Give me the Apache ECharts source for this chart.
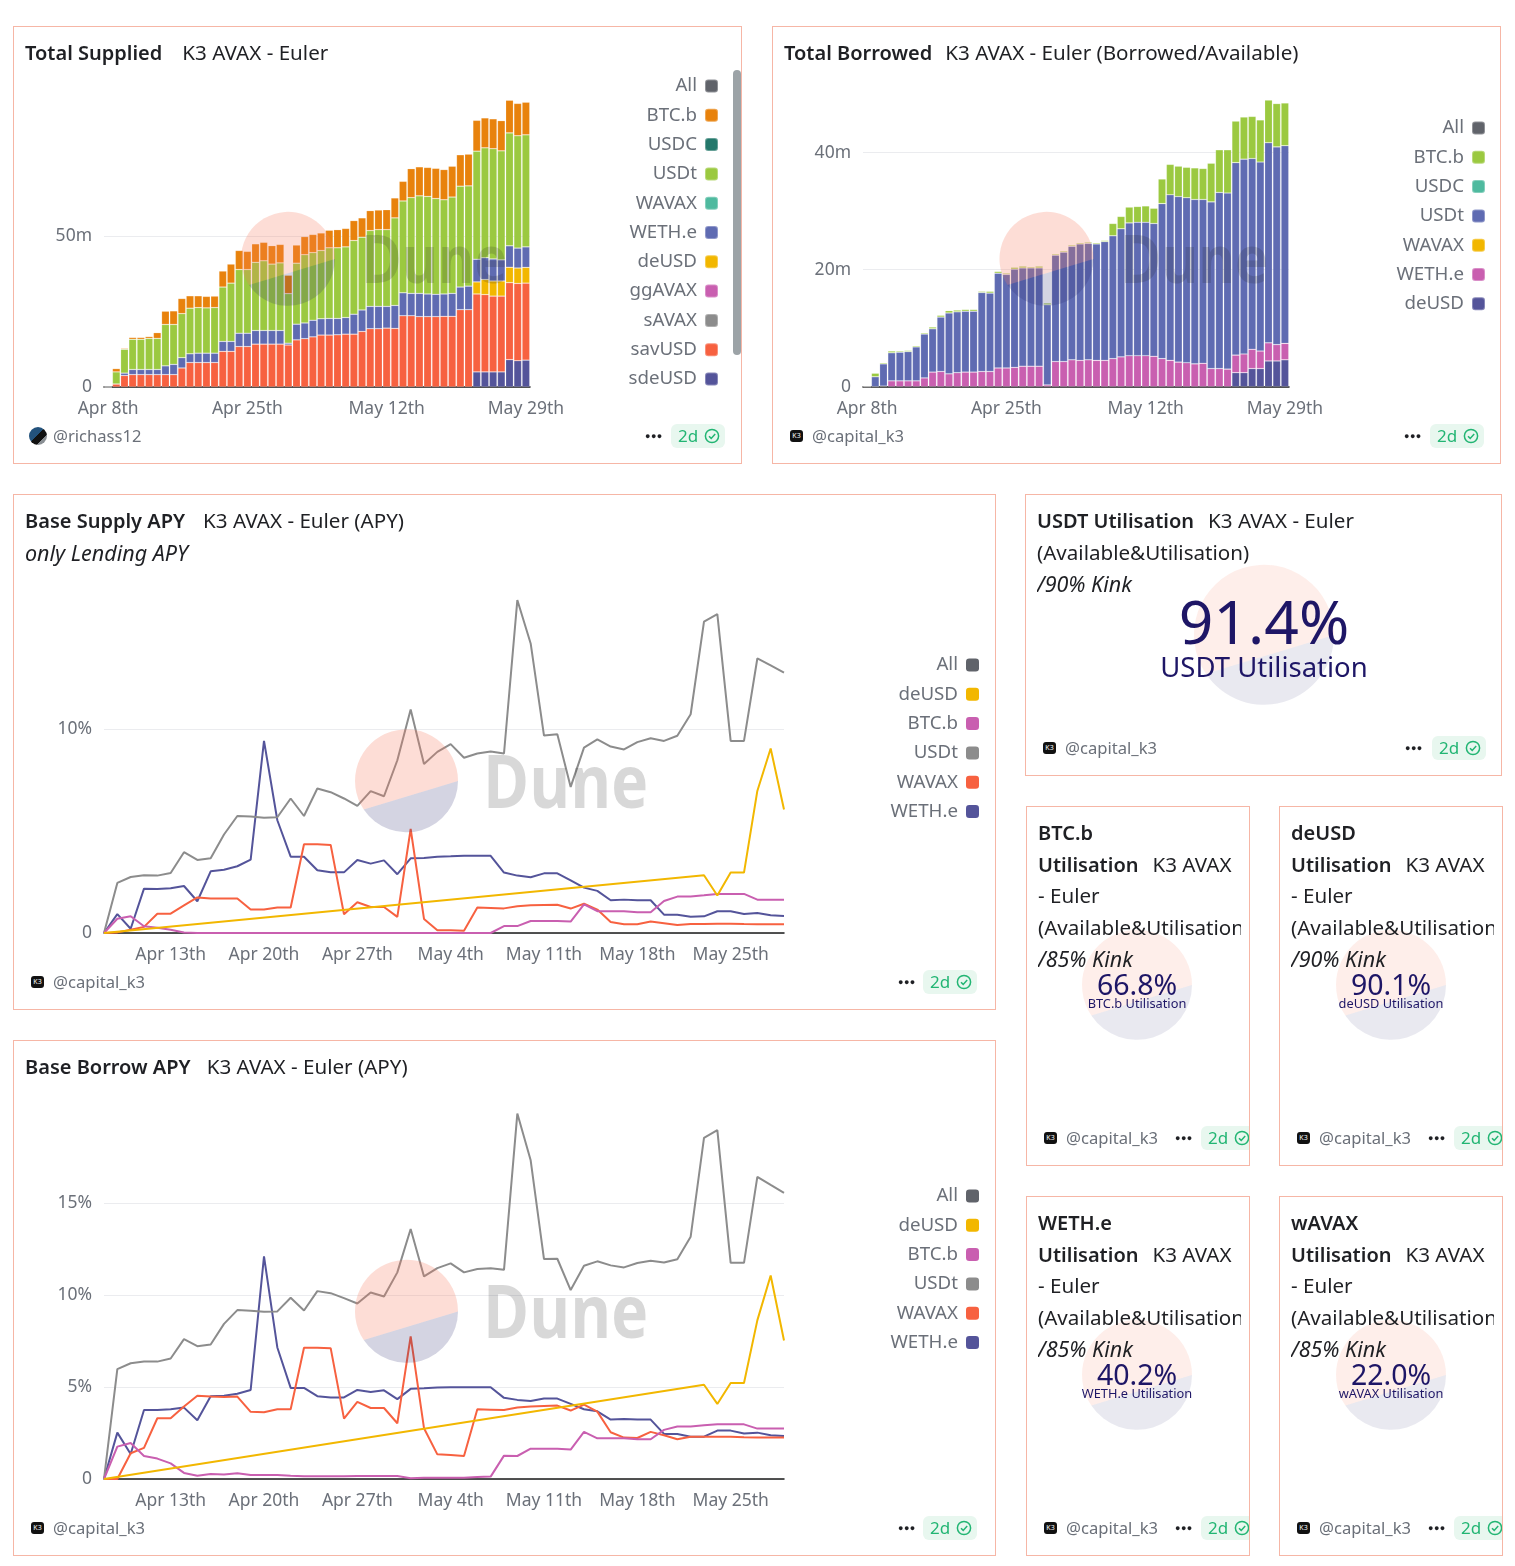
<!DOCTYPE html>
<html>
<head>
<meta charset="utf-8">
<title>K3 AVAX - Euler</title>
<script src="https://cdn.jsdelivr.net/npm/echarts@6/dist/echarts.min.js"></script>
<style>
html,body{margin:0;padding:0;background:#fff;}
body{position:relative;width:1515px;height:1566px;overflow:hidden;font-family:"Noto Sans",sans-serif;}
.card{position:absolute;box-sizing:border-box;border:1px solid #f6b6a6;overflow:hidden;background:#fff;}
.head{position:absolute;left:11px;right:8px;top:10px;overflow:hidden;font-size:20.6px;line-height:31.5px;color:#1f2024;white-space:nowrap;z-index:3;}
.head b{font-weight:600;font-size:20px;}
.head i{font-size:21.5px;}
.foot{position:absolute;height:24px;line-height:24px;font-size:16.6px;color:#6b7079;white-space:nowrap;z-index:3;}
.dots{position:absolute;font-size:9px;letter-spacing:0.5px;color:#1f2024;z-index:3;height:24px;line-height:24px;}
.badge{position:absolute;width:54px;height:24px;line-height:24px;border-radius:6px;background:#e8f7ef;color:#22b573;font-size:17px;padding-left:7px;box-sizing:border-box;z-index:3;}
.badge svg{position:absolute;left:33px;top:4px;}
.k3{position:absolute;width:13px;height:12px;border-radius:3px;background:#111;color:#fff;font-size:7px;line-height:12px;text-align:center;z-index:3;}
.pic{position:absolute;width:18px;height:18px;border-radius:9px;background:linear-gradient(135deg,#23527c 0 45%,#111 45% 70%,#8a8f94 70%);z-index:3;}
.chart{position:absolute;z-index:2;}
.logo{position:absolute;left:0;top:0;pointer-events:none;}
.scroll{position:absolute;left:733px;top:70px;width:8px;height:285px;border-radius:4px;background:#9ca3a7;z-index:4;}
</style>
</head>
<body>
<div class="scroll"></div>
<script>
var dates=['Apr 8th','Apr 9th','Apr 10th','Apr 11th','Apr 12th','Apr 13th','Apr 14th','Apr 15th','Apr 16th','Apr 17th',
'Apr 18th','Apr 19th','Apr 20th','Apr 21st','Apr 22nd','Apr 23rd','Apr 24th','Apr 25th','Apr 26th','Apr 27th',
'Apr 28th','Apr 29th','Apr 30th','May 1st','May 2nd','May 3rd','May 4th','May 5th','May 6th','May 7th',
'May 8th','May 9th','May 10th','May 11th','May 12th','May 13th','May 14th','May 15th','May 16th','May 17th',
'May 18th','May 19th','May 20th','May 21st','May 22nd','May 23rd','May 24th','May 25th','May 26th','May 27th',
'May 28th','May 29th'];

// Total Supplied, in millions
var supSde=[null,null,null,null,null,null,null,null,null,null,
null,null,null,null,null,null,null,null,null,null,
null,null,null,null,null,null,null,null,null,null,
null,null,null,null,null,null,null,null,null,null,
null,null,null,null,null,5.0,5.0,5.0,5.0,9.05,
8.7,8.9];
var supSav=[0,1.0,3.8,4.1,4.1,4.1,4.1,4.1,4.1,6.3,
8.1,8.1,8.1,8.1,11.8,11.8,13.4,13.4,14.2,14.2,
14.2,14.2,13.9,15.6,16.0,16.6,17.2,17.2,17.3,17.5,
17.5,18.4,19.3,19.3,19.5,19.4,23.6,23.6,23.3,23.3,
23.3,23.4,23.4,25.6,25.6,25.8,25.6,25.1,25.1,25.5,
25.6,25.5];
var supDe=[null,null,null,null,null,null,null,null,null,null,
null,null,null,null,null,null,null,null,null,null,
null,null,null,null,null,null,null,null,null,null,
null,null,null,null,null,null,null,null,null,null,
null,null,null,null,null,4.0,5.0,5.0,5.0,5.1,
5.1,5.2];
var supWeth=[0,0,0.8,1.7,1.7,1.7,1.7,2.9,3.4,3.4,
2.9,3.1,3.1,3.1,3.3,3.3,4.4,4.4,4.5,4.5,
4.5,4.5,0.6,5.2,5.2,5.5,5.4,5.5,5.4,5.5,
6.6,7.1,7.4,7.4,7.2,7.6,7.6,7.4,7.7,7.5,
7.4,7.4,7.6,7.5,7.8,7.5,7.2,7.3,7.0,7.1,
6.6,6.8];
var supUsdt=[0,4.0,7.9,10.0,10.0,10.3,10.3,13.7,13.2,14.6,
15.1,15.1,15.0,15.1,18.0,19.3,21.1,21.1,22.6,23.1,
22.0,22.4,16.4,20.2,22.6,22.4,22.6,23.4,23.4,23.4,
24.4,24.1,25.1,25.4,25.4,29.0,30.4,31.7,32.3,32.3,
31.7,31.2,31.9,33.4,33.2,35.8,36.4,36.5,36.1,37.4,
37.2,37.1];
var supBtc=[0,1.1,0.3,0.6,0.6,0.6,1.9,4.4,4.5,5.0,
4.1,3.9,3.8,3.8,5.3,6.3,6.3,6.0,6.1,6.1,
6.1,6.1,6.1,6.0,6.0,6.0,5.8,5.8,6.0,6.1,
6.6,6.4,6.6,6.5,6.6,6.6,6.5,9.6,9.6,9.6,
10.0,10.0,10.2,10.4,10.5,10.2,9.9,9.9,10.0,10.8,
10.7,10.8];

// Total Borrowed, in millions
var borDe=[null,null,null,null,null,null,null,null,null,null,
null,null,null,null,null,null,null,null,null,null,
null,null,null,null,null,null,null,null,null,null,
null,null,null,null,null,null,null,null,null,null,
null,null,null,null,null,2.4,2.4,3.1,3.1,4.4,
4.4,4.6];
var borWeth=[0,0,0.1,1.0,1.0,1.0,1.0,1.5,2.5,2.6,
2.2,2.4,2.5,2.5,2.6,2.6,3.2,3.2,3.3,3.5,
3.5,3.5,0.3,4.3,4.3,4.6,4.5,4.6,4.5,4.5,
4.8,5.1,5.3,5.3,5.3,5.2,4.8,4.5,4.2,4.1,
3.9,4.0,3.1,3.1,3.0,3.0,3.2,3.3,3.0,3.1,
2.8,2.8];
var borUsdt=[0,1.7,3.8,4.8,4.9,5.0,5.8,7.5,7.4,9.3,
10.4,10.4,10.4,10.4,13.5,13.4,16.2,16.0,16.8,16.8,
16.8,16.8,13.7,18.2,18.7,19.4,19.9,19.9,19.9,20.3,
21.0,21.9,22.7,22.8,22.8,22.7,26.5,28.3,28.3,28.2,
28.1,28.0,28.5,30.1,30.1,32.9,33.3,32.6,32.3,34.2,
33.8,33.8];
var borBtc=[0,0.6,0.2,0.3,0.2,0.2,0.2,0.2,0.3,0.3,
0.4,0.3,0.3,0.3,0.2,0.3,0.3,0.2,0.3,0.3,
0.2,0.3,0.3,0.2,0.2,0.2,0.2,0.2,0.2,0.2,
2.1,2.1,2.7,2.7,2.8,2.6,4.2,5.2,5.2,5.2,
5.4,5.3,6.6,7.3,7.4,7.1,7.2,7.2,7.2,7.3,
7.4,7.3];

// Base Supply APY, percent
var apyUsdt=[0,2.46,2.75,2.84,2.82,2.95,3.97,3.59,3.67,4.84,
5.75,5.72,5.66,5.69,6.61,5.75,7.10,6.92,6.61,6.25,
6.97,6.72,8.49,10.98,8.30,8.90,9.28,8.61,8.82,8.92,
8.82,16.36,14.23,9.70,9.77,7.18,9.11,9.51,9.16,9.02,
9.38,9.57,9.44,9.69,10.75,15.30,15.67,9.44,9.44,13.49,
13.15,12.80];
var apyWeth=[0,0.93,0.21,2.18,2.16,2.20,2.31,1.56,3.03,3.11,
3.28,3.61,9.44,5.54,3.75,3.75,3.08,2.98,2.98,3.59,
3.41,3.57,2.89,3.67,3.69,3.75,3.77,3.80,3.80,3.79,
2.97,2.82,2.74,2.93,2.93,2.59,2.23,2.07,1.61,1.64,
1.61,1.61,0.90,0.90,0.80,0.82,1.07,1.07,0.93,0.98,
0.87,0.84];
var apyWavax=[0,0.03,0.16,0.30,0.95,0.95,1.36,1.75,1.70,1.70,
1.70,1.15,1.15,1.25,1.25,4.36,4.36,4.33,0.92,1.51,
1.28,1.28,0.79,5.11,0.69,0.13,0.13,0.11,1.25,1.23,
1.21,1.31,1.36,1.38,1.39,1.20,1.44,1.15,0.54,0.43,
0.43,0.56,0.48,0.39,0.44,0.44,0.46,0.46,0.44,0.43,
0.43,0.43];
var apyBtc=[0,0.70,0.82,0.33,0.26,0.16,0.02,0,0,0,
0,0,0,0,0,0,0,0,0,0,
0,0,0,0,0,0,0,0,0,0,
0.34,0.34,0.59,0.59,0.59,0.56,1.41,1.07,1.07,1.07,
1.02,1.02,1.57,1.79,1.79,1.85,1.92,1.92,1.92,1.64,
1.64,1.64];
var apyDe=[0,null,null,null,null,null,null,null,null,null,
null,null,null,null,null,null,null,null,null,null,
null,null,null,null,null,null,null,null,null,null,
null,null,null,null,null,null,null,null,null,null,
null,null,null,null,null,2.84,1.84,2.97,2.97,6.98,
9.07,6.07];

// Base Borrow APY, percent
var aprUsdt=[0,5.97,6.29,6.38,6.38,6.55,7.60,7.22,7.31,8.43,
9.18,9.14,9.09,9.11,9.85,9.16,10.21,10.10,9.83,9.54,
10.14,9.92,11.23,13.59,11.01,11.46,11.72,11.23,11.41,11.45,
11.37,19.86,17.32,11.95,11.97,10.27,11.59,11.83,11.61,11.50,
11.74,11.86,11.77,11.94,13.17,18.54,18.96,11.75,11.75,16.42,
15.98,15.55];
var aprWeth=[0,2.52,1.36,3.75,3.75,3.79,3.88,3.19,4.50,4.53,
4.63,4.84,12.10,7.15,4.95,4.95,4.50,4.43,4.43,4.84,
4.73,4.82,4.34,4.90,4.93,4.97,4.99,4.99,4.99,4.99,
4.41,4.30,4.24,4.37,4.37,4.08,3.79,3.68,3.23,3.26,
3.23,3.23,2.45,2.45,2.30,2.30,2.63,2.63,2.47,2.52,
2.38,2.34];
var aprWavax=[0,0,1.40,1.69,3.30,3.30,3.94,4.52,4.48,4.46,
4.48,3.65,3.63,3.79,3.79,7.13,7.13,7.11,3.28,4.19,
3.86,3.86,3.03,7.75,2.76,1.34,1.31,1.25,3.79,3.77,
3.75,3.88,3.94,3.97,3.99,3.72,4.04,3.66,2.54,2.25,
2.23,2.56,2.38,2.16,2.30,2.29,2.30,2.30,2.27,2.25,
2.25,2.25];
var aprBtc=[0,1.76,1.96,1.25,1.11,0.85,0.33,0.18,0.27,0.24,
0.31,0.22,0.22,0.22,0.18,0.15,0.15,0.15,0.15,0.16,
0.16,0.16,0.16,0.04,0.07,0.07,0.07,0.07,0.11,0.13,
1.27,1.25,1.65,1.65,1.65,1.60,2.56,2.21,2.21,2.21,
2.16,2.16,2.67,2.85,2.85,2.92,2.97,2.97,2.97,2.74,
2.74,2.74];
var aprDe=[0,null,null,null,null,null,null,null,null,null,
null,null,null,null,null,null,null,null,null,null,
null,null,null,null,null,null,null,null,null,null,
null,null,null,null,null,null,null,null,null,null,
null,null,null,null,null,5.12,4.08,5.22,5.22,8.62,
11.06,7.53];

var utilNames=['USDT Utilisation','BTC.b Utilisation','deUSD Utilisation','WETH.e Utilisation','wAVAX Utilisation'];
var utilValues=['91.4%','66.8%','90.1%','40.2%','22.0%'];

var grey='#60636a',orange='#e8820c',green='#9bc940',teal='#4fba9f',dteal='#24786b',blue='#5f6bb2',yellow='#f2b700',pink='#c95fb0',mid='#8c8c8c',red='#f76140',navy='#54549a';
var textCol='#6b7079';

function addDiv(cls,x,y,w,h,html){
	var d=document.createElement('div');
	d.className=cls;
	d.style.left=x+'px';d.style.top=y+'px';
	if(w!=null){d.style.width=w+'px';}
	if(h!=null){d.style.height=h+'px';}
	if(html){d.innerHTML=html;}
	document.body.appendChild(d);
	return d;
}

var checkIcon='<svg width="16" height="16" viewBox="0 0 16 16"><circle cx="8" cy="8" r="6.600" fill="none" stroke="#22b573" stroke-width="1.500"/><path d="M5 8.200l2.200 2.200L11.200 6" fill="none" stroke="#22b573" stroke-width="1.500"/></svg>';

function addCard(x,y,w,h,title,handle,dotsX,badgeX){
	var c=addDiv('card',x,y,w,h,'<div class="head">'+title+'</div>'+
		'<div class="dots" style="left:'+(dotsX-x-1)+'px;top:'+(h-41)+'px">&#9679;&#9679;&#9679;</div>'+
		'<div class="badge" style="left:'+(badgeX-x-1)+'px;top:'+(h-41)+'px">2d'+checkIcon+'</div>'+
		'<div class="foot" style="left:'+39+'px;top:'+(h-41)+'px">@'+handle+'</div>'+
		(handle=='richass12'?'<div class="pic" style="left:15px;top:'+(h-38)+'px"></div>'
			:'<div class="k3" style="left:17px;top:'+(h-35)+'px">K3</div>'));
	return c;
}

function addLogo(x,y,cx,cy,r,w,h,top,bottom,word){
	var dx=r*0.83,dy=r*0.555;
	var s='<svg class="logo" width="'+w+'" height="'+h+'">'+
		'<path d="M'+(cx+r)+' '+cy+'A'+r+' '+r+' 0 1 0 '+(cx-dx)+' '+(cy+dy)+'Z" fill="'+top+'"/>'+
		'<path d="M'+(cx+r)+' '+cy+'A'+r+' '+r+' 0 0 1 '+(cx-dx)+' '+(cy+dy)+'Z" fill="'+bottom+'"/>';
	if(word){
		s+='<text x="'+word[0]+'" y="'+word[1]+'" font-family="Open Sans" font-weight="700" font-size="'+word[2]+'" textLength="'+word[3]+'" lengthAdjust="spacingAndGlyphs" fill="rgba(40,40,40,0.18)">Dune</text>';
	}
	s+='</svg>';
	var d=addDiv('chart',x,y,w,h,s);
	d.style.zIndex=5;
	d.style.pointerEvents='none';
	return d;
}

function makeChart(x,y,w,h,g,legendNames,legendColors,legendRight,legendTop,seriesList,yMax,yStep,yFmt,labelInterval,boundary){
	var el=addDiv('chart',x,y,w,h);
	var chart=echarts.init(el);
	var data=[];
	for(var i=0;i<legendNames.length;i++){
		data.push({name:legendNames[i],itemStyle:{color:legendColors[i]}});
	}
	var option={
		animation:false,
		tooltip:{trigger:'axis'},
		legend:{
			orient:'vertical',align:'right',right:legendRight,top:legendTop,padding:0,
			icon:'roundRect',itemWidth:13,itemHeight:13,itemGap:9.3,selectedMode:false,
			textStyle:{fontFamily:'Noto Sans',fontSize:18.7,color:textCol,lineHeight:20,padding:[0,3,0,0]},
			data:data
		},
		grid:{left:g[0],top:g[1],width:g[2],height:g[3]},
		xAxis:{
			type:'category',data:dates,boundaryGap:boundary,
			axisTick:{show:false},
			axisLine:{lineStyle:{color:'#1a1a1a',width:1.5}},
			axisLabel:{interval:labelInterval,fontFamily:'Noto Sans',fontSize:17.5,color:textCol,margin:13}
		},
		yAxis:{
			type:'value',min:0,max:yMax,interval:yStep,
			axisLine:{show:false},axisTick:{show:false},
			splitLine:{showMaxLine:false,lineStyle:{color:'#ebecef',width:1}},
			axisLabel:{showMaxLabel:false,formatter:yFmt,fontFamily:'Noto Sans',fontSize:17.5,color:textCol,margin:12,padding:[0,0,5,0]}
		},
		series:seriesList
	};
	chart.setOption(option);
	return chart;
}

function bar(name,color,values){
	return {name:name,type:'bar',stack:'total',data:values,barCategoryGap:'6%',
		itemStyle:{color:color,borderColor:'rgba(255,255,255,0.3)',borderWidth:0.6}};
}
function line(name,color,values){
	return {name:name,type:'line',data:values,showSymbol:false,connectNulls:true,
		lineStyle:{color:color,width:2},itemStyle:{color:color}};
}
function fmtM(v){return v==0?'0':v+'m';}
function fmtP(v){return v==0?'0':v+'%';}
function lineLabel(i){return i%7==5;}

// cards across the page
addCard(13,26,729,438,'<b>Total Supplied</b><span style="margin-left:20px">K3 AVAX - Euler</span>','richass12',645,671);
addCard(772,26,729,438,'<b>Total Borrowed</b><span style="margin-left:13px">K3 AVAX - Euler (Borrowed/Available)</span>','capital_k3',1404,1430);
addCard(13,494,983,516,'<b>Base Supply APY</b><span style="margin-left:18px">K3 AVAX - Euler (APY)</span><br><i>only Lending APY</i>','capital_k3',898,923);
addCard(13,1040,983,516,'<b>Base Borrow APY</b><span style="margin-left:16px">K3 AVAX - Euler (APY)</span>','capital_k3',898,923);
addCard(1025,494,477,282,'<b>USDT Utilisation</b><span style="margin-left:14px">K3 AVAX - Euler</span><br>(Available&amp;Utilisation)<br><i>/90% Kink</i>','capital_k3',1405,1432);
var narrow=[
	[1026,806,'BTC.b','85%'],
	[1279,806,'deUSD','90%'],
	[1026,1196,'WETH.e','85%'],
	[1279,1196,'wAVAX','85%']
];
narrow.forEach(function(n){
	addCard(n[0],n[1],224,360,'<b>'+n[2]+'<br>Utilisation</b><span style="margin-left:14px">K3 AVAX</span><br>- Euler<br>(Available&amp;Utilisation)<br><i>/'+n[3]+' Kink</i>','capital_k3',n[0]+149,n[0]+175);
});

// Total Supplied
makeChart(13,26,729,438,[91,59,426,302],
	['All','BTC.b','USDC','USDt','WAVAX','WETH.e','deUSD','ggAVAX','sAVAX','savUSD','sdeUSD'],
	[grey,orange,dteal,green,teal,blue,yellow,pink,mid,red,navy],23,50,
	[bar('sdeUSD',navy,supSde),bar('savUSD',red,supSav),bar('sAVAX',mid,[]),bar('ggAVAX',pink,[]),bar('deUSD',yellow,supDe),bar('WETH.e',blue,supWeth),bar('WAVAX',teal,[]),bar('USDt',green,supUsdt),bar('USDC',dteal,[]),bar('BTC.b',orange,supBtc),bar('All',grey,[])],
	100,50,fmtM,16,true);
addLogo(13,26,275,233,47,729,438,'rgba(246,120,90,0.25)','rgba(40,40,110,0.2)',[348,257,66,146]);

// Total Borrowed
makeChart(772,26,729,438,[91,9.7,426,351],
	['All','BTC.b','USDC','USDt','WAVAX','WETH.e','deUSD'],
	[grey,green,teal,blue,yellow,pink,navy],15,92,
	[bar('deUSD',navy,borDe),bar('WETH.e',pink,borWeth),bar('WAVAX',yellow,[]),bar('USDt',blue,borUsdt),bar('USDC',teal,[]),bar('BTC.b',green,borBtc),bar('All',grey,[])],
	60,20,fmtM,16,true);
addLogo(772,26,274.5,233,47,729,438,'rgba(246,120,90,0.25)','rgba(40,40,110,0.2)',[348,257,66,148]);

// Base Supply APY
makeChart(13,494,983,516,[91,32,680,407],
	['All','deUSD','BTC.b','USDt','WAVAX','WETH.e'],
	[grey,yellow,pink,mid,red,navy],17,161,
	[line('All',grey,[]),line('WETH.e',navy,apyWeth),line('WAVAX',red,apyWavax),line('USDt',mid,apyUsdt),line('BTC.b',pink,apyBtc),line('deUSD',yellow,apyDe)],
	20,10,fmtP,lineLabel,false);
addLogo(13,494,393.5,287,51.5,983,516,'rgba(246,120,90,0.25)','rgba(40,40,110,0.2)',[470,314,74,165]);

// Base Borrow APY
makeChart(13,1040,983,516,[91,71,680,368],
	['All','deUSD','BTC.b','USDt','WAVAX','WETH.e'],
	[grey,yellow,pink,mid,red,navy],17,146,
	[line('All',grey,[]),line('WETH.e',navy,aprWeth),line('WAVAX',red,aprWavax),line('USDt',mid,aprUsdt),line('BTC.b',pink,aprBtc),line('deUSD',yellow,aprDe)],
	20,5,fmtP,lineLabel,false);
addLogo(13,1040,393.5,271.5,51.5,983,516,'rgba(246,120,90,0.25)','rgba(40,40,110,0.2)',[470,298,74,165]);

// utilisation counters
function makeCounter(x,y,w,h,cx,cy,r,idx,big,small,topBig,topSmall){
	var s=addLogo(x,y,cx,cy,r,w,h,'rgba(246,120,90,0.13)','rgba(40,40,110,0.10)');
	s.style.zIndex=1;
	var chart=echarts.init(addDiv('chart',x,y,w,h));
	chart.setOption({
		animation:false,
		title:[
			{text:utilValues[idx],left:cx,top:topBig,padding:0,textAlign:'center',textStyle:{fontFamily:'Noto Sans',fontSize:big,fontWeight:400,color:'#1e1666'}},
			{text:utilNames[idx],left:cx,top:topSmall,padding:0,textAlign:'center',textStyle:{fontFamily:'Noto Sans',fontSize:small,fontWeight:400,color:'#1e1666'}}
		]
	});
}
makeCounter(1025,494,477,282,239,141,70,0,60.5,27.5,102,161);
makeCounter(1026,806,224,360,111,179,55,1,28.5,12.8,166,192);
makeCounter(1279,806,224,360,112,179,55,2,28.5,12.8,166,192);
makeCounter(1026,1196,224,360,111,179,55,3,28.5,12.8,166,192);
makeCounter(1279,1196,224,360,112,179,55,4,28.5,12.8,166,192);
</script>
</body>
</html>
